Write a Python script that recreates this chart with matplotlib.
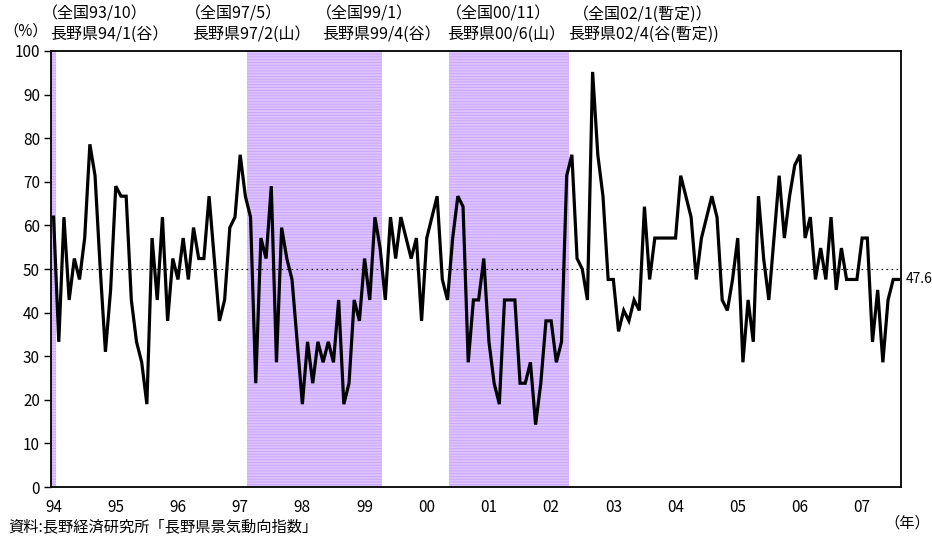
import matplotlib
matplotlib.use('Agg')
import matplotlib.pyplot as plt
import numpy as np

plt.rcParams['font.family'] = ['Noto Sans CJK JP', 'DejaVu Sans']
plt.rcParams['hatch.linewidth'] = 0.6

# monthly DI (%), 1994/1 - 2007/8
di_1994 = [61.9, 33.3, 61.9, 42.9, 52.4, 47.6, 57.1, 78.6, 71.4, 50.0, 31.0, 45.2]
di_1995 = [69.0, 66.7, 66.7, 42.9, 33.3, 28.6, 19.0, 57.1, 42.9, 61.9, 38.1, 52.4]
di_1996 = [47.6, 57.1, 47.6, 59.5, 52.4, 52.4, 66.7, 52.4, 38.1, 42.9, 59.5, 61.9]
di_1997 = [76.2, 66.7, 61.9, 23.8, 57.1, 52.4, 69.0, 28.6, 59.5, 52.4, 47.6, 33.3]
di_1998 = [19.0, 33.3, 23.8, 33.3, 28.6, 33.3, 28.6, 42.9, 19.0, 23.8, 42.9, 38.1]
di_1999 = [52.4, 42.9, 61.9, 54.8, 42.9, 61.9, 52.4, 61.9, 57.1, 52.4, 57.1, 38.1]
di_2000 = [57.1, 61.9, 66.7, 47.6, 42.9, 57.1, 66.7, 64.3, 28.6, 42.9, 42.9, 52.4]
di_2001 = [33.3, 23.8, 19.0, 42.9, 42.9, 42.9, 23.8, 23.8, 28.6, 14.3, 23.8, 38.1]
di_2002 = [38.1, 28.6, 33.3, 71.4, 76.2, 52.4, 50.0, 42.9, 95.2, 76.2, 66.7, 47.6]
di_2003 = [47.6, 35.7, 40.5, 38.1, 42.9, 40.5, 64.3, 47.6, 57.1, 57.1, 57.1, 57.1]
di_2004 = [57.1, 71.4, 66.7, 61.9, 47.6, 57.1, 61.9, 66.7, 61.9, 42.9, 40.5, 47.6]
di_2005 = [57.1, 28.6, 42.9, 33.3, 66.7, 52.4, 42.9, 57.1, 71.4, 57.1, 66.7, 73.8]
di_2006 = [76.2, 57.1, 61.9, 47.6, 54.8, 47.6, 61.9, 45.2, 54.8, 47.6, 47.6, 47.6]
di_2007 = [57.1, 57.1, 33.3, 45.2, 28.6, 42.9, 47.6, 47.6]

year_labels = ['94', '95', '96', '97', '98', '99', '00', '01', '02', '03', '04', '05', '06', '07']

# recession bands (month index from 1994/1)
band_start = [-0.5, 37.3, 76.3]
band_end = [0.4, 63.4, 99.4]

notes_zenkoku = ['（全国93/10）', '（全国97/5）', '（全国99/1）', '（全国00/11）', '（全国02/1(暫定)）']
notes_nagano = ['長野県94/1(谷）', '長野県97/2(山）', '長野県99/4(谷）', '長野県00/6(山）', '長野県02/4(谷(暫定))']
note_x1 = [42, 185, 316, 446, 573]
note_x2 = [50, 192, 322, 447, 568]

di = np.array(di_1994 + di_1995 + di_1996 + di_1997 + di_1998 + di_1999 + di_2000
              + di_2001 + di_2002 + di_2003 + di_2004 + di_2005 + di_2006 + di_2007)
months = np.arange(len(di))

fig = plt.figure(figsize=(9.32, 5.36), dpi=100)
ax = fig.add_axes([51 / 932, 1 - 487 / 536, 850 / 932, 436 / 536])

for s, e in zip(band_start, band_end):
    ax.axvspan(s, e, facecolor='#dcc2ff', edgecolor='#c9a3fb', hatch='------', linewidth=0, zorder=0)

ax.axhline(50, color='black', linestyle=(0, (1.5, 3)), linewidth=0.8, zorder=1)
ax.plot(months, di, color='black', linewidth=2.3, solid_joinstyle='miter', zorder=3)

ax.set_xlim(-0.5, len(di) - 0.5)
ax.set_ylim(0, 100)
ax.set_yticks(np.arange(0, 101, 10))
ax.set_xticks(np.arange(0, len(di), 12))
ax.set_xticklabels(year_labels)
ax.tick_params(axis='x', length=0, pad=9, labelsize=11)
ax.tick_params(axis='y', direction='out', length=5, width=1, pad=3, labelsize=11)
for sp in ax.spines.values():
    sp.set_linewidth(1.3)

ax.text(len(di) - 0.5 + 1, di[-1], '47.6', va='center', ha='left', fontsize=10)

for x, t in zip(note_x1, notes_zenkoku):
    fig.text(x / 932, 1 - 14 / 536, t, va='center', ha='left', fontsize=11.5)
for x, t in zip(note_x2, notes_nagano):
    fig.text(x / 932, 1 - 34 / 536, t, va='center', ha='left', fontsize=11.5)

fig.text(3 / 932, 1 - 31 / 536, '（%）', va='center', ha='left', fontsize=11)
fig.text(930 / 932, 1 - 523 / 536, '（年）', va='center', ha='right', fontsize=11)
fig.text(8 / 932, 1 - 535 / 536, '資料:長野経済研究所「長野県景気動向指数」', va='bottom', ha='left', fontsize=11)

fig.savefig('out.png', dpi=100)
plt.close(fig)
